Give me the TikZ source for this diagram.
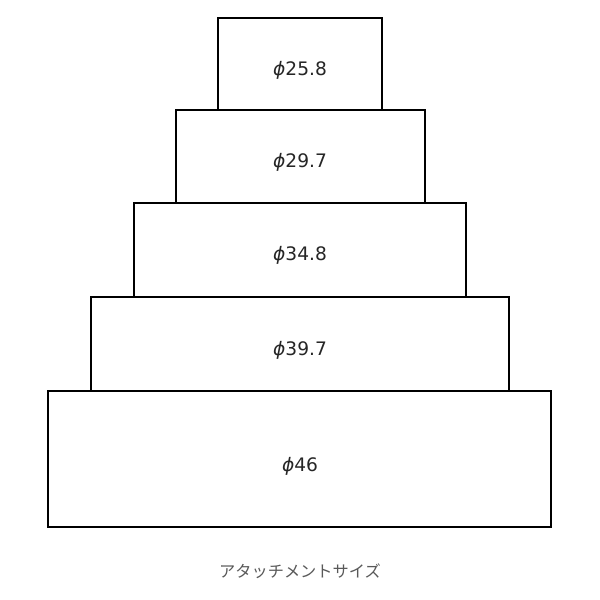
\documentclass[tikz,border=0pt]{standalone}
\usepackage{fontspec}
\setmainfont{DejaVu Sans}
\newfontfamily\cjk{Noto Sans CJK JP}
\newfontfamily\phifont{DejaVu Sans Oblique}
\begin{document}
\begin{tikzpicture}[x=0.5pt,y=-0.5pt,
  tier/.style={draw=black,line width=1pt,fill=none,inner sep=0pt},
  lbl/.style={font=\fontsize{9.3pt}{11pt}\selectfont,text=black!85,inner sep=0pt},
  captext/.style={font=\cjk\fontsize{8.1pt}{10pt}\selectfont,text=black!65,inner sep=0pt}]
\useasboundingbox (0,0) rectangle (600,600);
\fill[white] (0,0) rectangle (600,600);
\draw[tier] (218,18) rectangle (382,110) node[pos=0.5] (t1) {};
\draw[tier] (175.5,110) rectangle (424.5,203) node[pos=0.5] (t2) {};
\draw[tier] (134,203) rectangle (466,297) node[pos=0.5] (t3) {};
\draw[tier] (91,297) rectangle (509,391) node[pos=0.5] (t4) {};
\draw[tier] (48,391) rectangle (551,527) node[pos=0.5] (t5) {};
\node[lbl] (l1) at (300,70) {{\phifont ϕ}25.8};
\node[lbl] (l2) at (300,162) {{\phifont ϕ}29.7};
\node[lbl] (l3) at (300,255) {{\phifont ϕ}34.8};
\node[lbl] (l4) at (300,350) {{\phifont ϕ}39.7};
\node[lbl] (l5) at (300,466) {{\phifont ϕ}46};
\node[captext] (c) at (300,571) {アタッチメントサイズ};
\end{tikzpicture}
\end{document}
